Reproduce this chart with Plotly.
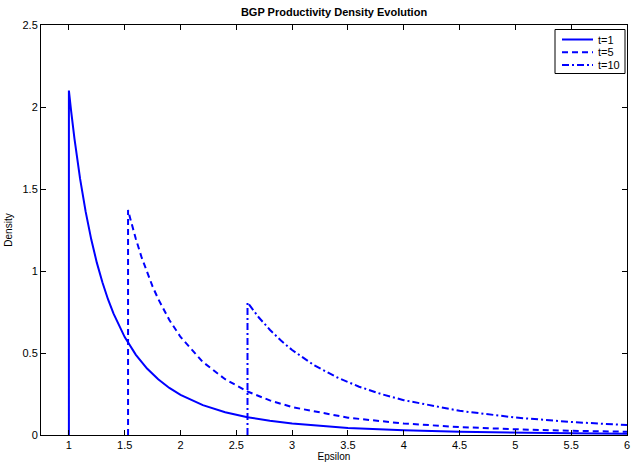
import plotly.graph_objects as go

# t=1 series
x_t1 = [1.0, 1.0, 1.02, 1.05, 1.1, 1.15, 1.2, 1.25, 1.3, 1.35, 1.4, 1.45, 1.5, 1.6, 1.7, 1.8, 1.9,
        2.0, 2.2, 2.4, 2.6, 2.8, 3.0, 3.5, 4.0, 4.5, 5.0, 5.5, 6.0]
y_t1 = [0.0, 2.1, 1.975, 1.805, 1.563, 1.362, 1.193, 1.051, 0.931, 0.828, 0.740, 0.664, 0.597, 0.489,
        0.405, 0.340, 0.287, 0.245, 0.182, 0.139, 0.1086, 0.0863, 0.0697, 0.0432, 0.0286, 0.0198,
        0.0143, 0.0106, 0.0081]

# t=5 series
x_t5 = [1.53, 1.53, 1.55, 1.58, 1.6, 1.65, 1.7, 1.75, 1.8, 1.9, 2.0, 2.2, 2.4, 2.6, 2.8, 3.0, 3.5,
        4.0, 4.5, 5.0, 5.5, 6.0]
y_t5 = [0.0, 1.3725, 1.319, 1.242, 1.195, 1.086, 0.989, 0.905, 0.830, 0.701, 0.598, 0.445, 0.340,
        0.265, 0.211, 0.170, 0.1055, 0.0699, 0.0484, 0.0349, 0.0260, 0.0198]

# t=10 series
x_t10 = [2.6, 2.6, 2.7, 2.8, 2.9, 3.0, 3.2, 3.4, 3.6, 3.8, 4.0, 4.5, 5.0, 5.5, 6.0]
y_t10 = [0.0, 0.808, 0.718, 0.642, 0.576, 0.518, 0.424, 0.352, 0.2945, 0.249, 0.2125, 0.1475,
         0.1064, 0.0792, 0.0604]

series_names = ["t=1", "t=5", "t=10"]

x_ticks = [1, 1.5, 2, 2.5, 3, 3.5, 4, 4.5, 5, 5.5, 6]
x_tick_labels = ["1", "1.5", "2", "2.5", "3", "3.5", "4", "4.5", "5", "5.5", "6"]
y_ticks = [0, 0.5, 1, 1.5, 2, 2.5]
y_tick_labels = ["0", "0.5", "1", "1.5", "2", "2.5"]

blue = "#0000ff"
font = "Liberation Sans, Arial, sans-serif"
dashes = ["solid", "6px,4px", "7px,3px,2px,3px"]

# plot area in pixels
L, R, T, B = 41, 627, 25, 435
W, H = 631, 464


def px(xp):
    return (xp - L) / (R - L)


def py(yp):
    return (B - yp) / (B - T)


fig = go.Figure()
for xs, ys, name, dash in zip([x_t1, x_t5, x_t10], [y_t1, y_t5, y_t10], series_names, dashes):
    fig.add_trace(go.Scatter(x=xs, y=ys, mode="lines", name=name,
                             line=dict(color=blue, width=2, dash=dash)))

axis_common = dict(showline=True, linecolor="black", linewidth=1, mirror="ticks",
                   ticks="inside", ticklen=5, tickcolor="black", showgrid=False,
                   zeroline=False, automargin=False,
                   tickfont=dict(family=font, size=11, color="black"))

# compact MATLAB-style legend box
shapes = [dict(type="rect", xref="paper", yref="paper",
               x0=px(555), x1=px(625), y0=py(73.5), y1=py(29.5),
               line=dict(color="black", width=1), fillcolor="white", layer="above")]
annotations = []
row_y = [39.5, 52.3, 65]
for name, dash, ry in zip(series_names, dashes, row_y):
    shapes.append(dict(type="line", xref="paper", yref="paper",
                       x0=px(562), x1=px(593), y0=py(ry), y1=py(ry),
                       line=dict(color=blue, width=2, dash=dash), layer="above"))
    annotations.append(dict(text=name, xref="paper", yref="paper", x=px(596), y=py(ry),
                            xanchor="left", yanchor="middle", showarrow=False,
                            font=dict(family=font, size=11, color="black")))

fig.update_layout(
    width=W, height=H,
    margin=dict(l=L, r=W - R, t=T, b=H - B),
    paper_bgcolor="white", plot_bgcolor="white",
    font=dict(family=font, color="black"),
    title=dict(text="<b>BGP Productivity Density Evolution</b>", x=(L + R) / 2 / W,
               xanchor="center", y=1 - 12 / H, yanchor="middle",
               font=dict(family=font, size=11, color="black")),
    xaxis=dict(range=[0.75, 6], tickvals=x_ticks, ticktext=x_tick_labels,
               title=dict(text="Epsilon", font=dict(family=font, size=10), standoff=2),
               **axis_common),
    yaxis=dict(range=[0, 2.5], tickvals=y_ticks, ticktext=y_tick_labels,
               title=dict(text="Density", font=dict(family=font, size=10), standoff=8),
               **axis_common),
    shapes=shapes,
    annotations=annotations,
    showlegend=False,
)

fig.write_html("out.html", config={"displayModeBar": False},
               post_script="document.body.style.margin='0';document.body.style.padding='0';")
